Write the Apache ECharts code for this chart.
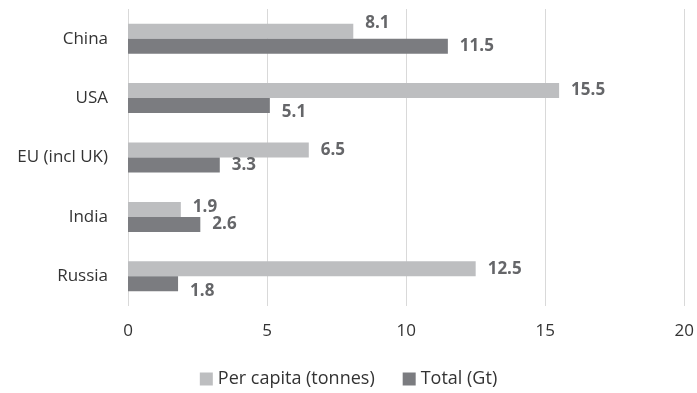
<!DOCTYPE html>
<html>
<head>
<meta charset="utf-8">
<script src="https://cdn.jsdelivr.net/npm/echarts@6/dist/echarts.min.js"></script>
<style>
  html, body { margin: 0; padding: 0; background: #fff; }
  #chart { width: 697px; height: 393px; }
</style>
</head>
<body>
<div id="chart"></div>
<script>
const countries = ["China", "USA", "EU (incl UK)", "India", "Russia"];
const perCapita = [8.1, 15.5, 6.5, 1.9, 12.5];
const total = [11.5, 5.1, 3.3, 2.6, 1.8];
const xTicks = [0, 5, 10, 15, 20];

// label nudges as seen in the picture (Excel placed a few labels off-centre)
const perCapitaShift = [-8, 0, 0, -2, 0];
const totalShift = [0, 7, 0, 0, 7];

const font = "'Open Sans', sans-serif";

function withShift(values, shifts) {
  return values.map((v, i) => ({
    value: v,
    label: { offset: [0, shifts[i]] },
  }));
}

const chart = echarts.init(document.getElementById("chart"), null, { renderer: "canvas" });

const valueLabel = {
  show: true,
  position: "right",
  distance: 12,
  fontSize: 17,
  fontWeight: "bold",
  color: "#656669",
  fontFamily: font,
};

chart.setOption({
  animation: false,
  textStyle: { fontFamily: font },
  grid: { left: 128, right: 12, top: 9, bottom: 87 },
  legend: {
    bottom: 0,
    left: "center",
    itemWidth: 13,
    itemHeight: 13,
    itemGap: 28,
    icon: "rect",
    textStyle: { fontSize: 18, color: "#333333", fontFamily: font },
    data: ["Per capita (tonnes)", "Total (Gt)"],
  },
  xAxis: {
    type: "value",
    min: xTicks[0],
    max: xTicks[xTicks.length - 1],
    interval: 5,
    axisLine: { show: false },
    axisTick: { show: false },
    axisLabel: { fontSize: 17, color: "#333333", margin: 17, fontFamily: font },
    splitLine: { lineStyle: { color: "#d9d9d9", width: 1 } },
  },
  yAxis: {
    type: "category",
    inverse: true,
    data: countries,
    axisLine: { show: false },
    axisTick: { show: false },
    axisLabel: { fontSize: 17, color: "#333333", margin: 20, fontFamily: font },
  },
  series: [
    {
      name: "Per capita (tonnes)",
      type: "bar",
      data: withShift(perCapita, perCapitaShift),
      barWidth: 15,
      barGap: "0%",
      itemStyle: { color: "#bdbec0" },
      label: valueLabel,
    },
    {
      name: "Total (Gt)",
      type: "bar",
      data: withShift(total, totalShift),
      barWidth: 15,
      barGap: "0%",
      itemStyle: { color: "#7b7c80" },
      label: valueLabel,
    },
  ],
});
</script>
</body>
</html>
